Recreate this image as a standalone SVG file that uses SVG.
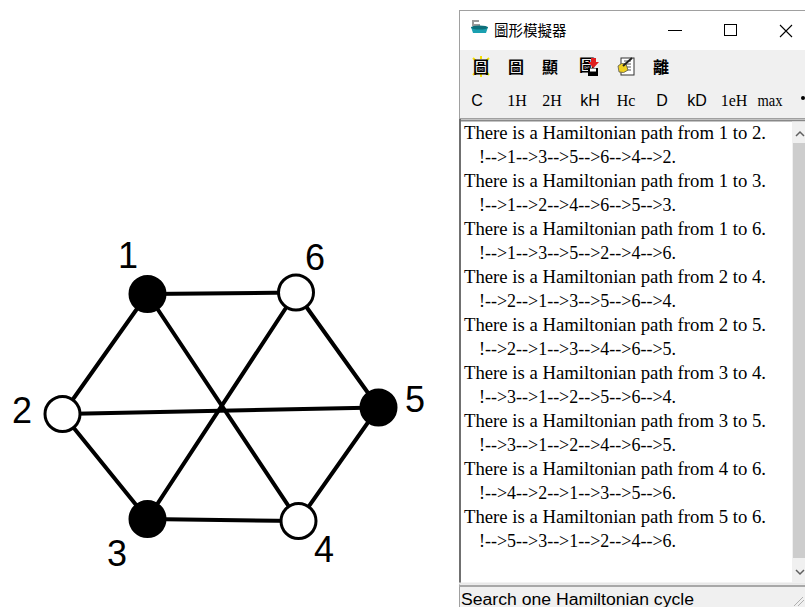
<svg xmlns="http://www.w3.org/2000/svg" width="805" height="607" viewBox="0 0 805 607">
<style>
.edge{stroke:#000;stroke-width:4;stroke-linecap:round}
.nb{fill:#000;stroke:#000;stroke-width:2}
.nw{fill:#fff;stroke:#000;stroke-width:3}
.lbl{font-family:"Liberation Sans",Arial,sans-serif;font-size:36px;fill:#000;text-anchor:middle}
.ser{font-family:"Liberation Serif","Times New Roman",serif;fill:#000}
.san{font-family:"Liberation Sans",Arial,sans-serif;fill:#000}
.cjk{font-family:"Noto Sans CJK TC","Noto Sans CJK SC",sans-serif;fill:#000}
.hd{font-size:18px}
.tb{font-size:16px;text-anchor:middle}
.ico{font-size:16px;text-anchor:middle;font-weight:bold}
</style>
<rect width="805" height="607" fill="#fff"/>

<g id="connectors">
<line class="edge" x1="147.5" y1="294" x2="296" y2="292.5"/>
<line class="edge" x1="147.5" y1="294" x2="62.5" y2="414"/>
<line class="edge" x1="147.5" y1="294" x2="298.5" y2="521"/>
<line class="edge" x1="296" y1="292.5" x2="378.5" y2="407.5"/>
<line class="edge" x1="296" y1="292.5" x2="147.5" y2="519"/>
<line class="edge" x1="62.5" y1="414" x2="378.5" y2="407.5"/>
<line class="edge" x1="62.5" y1="414" x2="147.5" y2="519"/>
<line class="edge" x1="147.5" y1="519" x2="298.5" y2="521"/>
<line class="edge" x1="298.5" y1="521" x2="378.5" y2="407.5"/>
</g>

<g id="node1"><circle class="nb" cx="147.5" cy="294" r="18"/><text class="lbl" x="128" y="268">1</text></g>
<g id="node6"><circle class="nw" cx="296" cy="292.5" r="17.5"/><text class="lbl" x="315" y="270">6</text></g>
<g id="node2"><circle class="nw" cx="62.5" cy="414" r="17.5"/><text class="lbl" x="22" y="423">2</text></g>
<g id="node5"><circle class="nb" cx="378.5" cy="407.5" r="18"/><text class="lbl" x="415" y="412">5</text></g>
<g id="node3"><circle class="nb" cx="147.5" cy="519" r="18"/><text class="lbl" x="117" y="566">3</text></g>
<g id="node4"><circle class="nw" cx="298.5" cy="521" r="17.5"/><text class="lbl" x="324" y="562">4</text></g>

<g id="window">
<rect x="459" y="10" width="346" height="597" fill="#f0f0f0"/>
<rect x="459.5" y="10.5" width="346" height="600" fill="none" stroke="#a0a0a0" stroke-width="1"/>
<rect x="460" y="11" width="345" height="39" fill="#fff"/>
<path d="M472 20 h7 v2 h-5 v2 h6 v2 h-8 z" fill="#9a9a9a"/>
<path d="M471 27 h17 l-2 6 h-13 z" fill="#1aa0b0"/>
<ellipse cx="479.5" cy="27.5" rx="8.5" ry="2" fill="#0d6f7a"/>
<text class="cjk" x="494" y="36" font-size="14.5px">圖形模擬器</text>
<line x1="668" y1="30.5" x2="682" y2="30.5" stroke="#000" stroke-width="1"/>
<rect x="724.5" y="24.5" width="12" height="11" fill="none" stroke="#000" stroke-width="1"/>
<path d="M780 25 L792 37 M792 25 L780 37" stroke="#000" stroke-width="1.1"/>
<g id="toolbar1">
<path d="M473 58 l3 3 M489 58 l-3 3 M473 75 l3 -3 M489 75 l-3 -3 M481 56 v3 M481 77 v-3" stroke="#f5e000" stroke-width="2"/>
<text class="cjk ico" x="481" y="73">圖</text>
<text class="cjk ico" x="516" y="73">圖</text>
<text class="cjk ico" x="550" y="73">顯</text>
<text class="cjk ico" x="587" y="71" font-size="13px">圖</text>
<path d="M591 58 h5 v4 h3 l-5.5 6 l-5.5 -6 h3 z" fill="#e02020"/>
<rect x="588" y="68" width="10" height="8" fill="#000"/>
<rect x="590" y="68.5" width="6" height="3" fill="#fff"/>
<rect x="621" y="58" width="13" height="17" fill="#fff" stroke="#333" stroke-width="1"/>
<path d="M624 61 h7 M624 64 h7 M626 67 h5 M626 70 h5" stroke="#555" stroke-width="1"/>
<path d="M618 66 q3 -4 8 -2 l2 6 q-4 4 -9 2 z" fill="#f0d020" stroke="#555" stroke-width="0.8"/>
<path d="M623 66 l9 -8" stroke="#222" stroke-width="2"/>
<text class="cjk ico" x="661" y="73">離</text>
</g>
<g id="toolbar2">
<text class="san tb" x="477" y="106">C</text>
<text class="ser tb" x="517" y="106">1H</text>
<text class="ser tb" x="552" y="106">2H</text>
<text class="san tb" x="590" y="106">kH</text>
<text class="ser tb" x="626" y="106">Hc</text>
<text class="san tb" x="662" y="106">D</text>
<text class="san tb" x="697" y="106">kD</text>
<text class="ser tb" x="734" y="106">1eH</text>
<text class="ser tb" x="770" y="106" textLength="25" lengthAdjust="spacingAndGlyphs">max</text>
<circle cx="803" cy="98" r="2" fill="#000"/>
</g>
<line x1="459" y1="118.5" x2="805" y2="118.5" stroke="#a0a0a0" stroke-width="1"/>
<rect x="459" y="119" width="346" height="464" fill="#fff"/>
<line x1="459" y1="120.5" x2="805" y2="120.5" stroke="#888" stroke-width="2"/>
<line x1="460" y1="119" x2="460" y2="584" stroke="#707070" stroke-width="2"/>
<line x1="459" y1="583.5" x2="805" y2="583.5" stroke="#e8e8e8" stroke-width="2"/>
<rect x="792" y="121.5" width="13" height="461" fill="#f0f0f0"/>
<rect x="793" y="143" width="12" height="415" fill="#cdcdcd"/>
<path d="M796 136 l4 -4 l4 4" fill="none" stroke="#606060" stroke-width="1.5"/>
<path d="M796 570 l4 4 l4 -4" fill="none" stroke="#606060" stroke-width="1.5"/>
<g id="output" class="ser hd">
<text x="464" y="139" textLength="302" lengthAdjust="spacingAndGlyphs">There is a Hamiltonian path from 1 to 2.</text>
<text x="479" y="163" textLength="197" lengthAdjust="spacingAndGlyphs">!--&gt;1--&gt;3--&gt;5--&gt;6--&gt;4--&gt;2.</text>
<text x="464" y="187" textLength="302" lengthAdjust="spacingAndGlyphs">There is a Hamiltonian path from 1 to 3.</text>
<text x="479" y="211" textLength="197" lengthAdjust="spacingAndGlyphs">!--&gt;1--&gt;2--&gt;4--&gt;6--&gt;5--&gt;3.</text>
<text x="464" y="235" textLength="302" lengthAdjust="spacingAndGlyphs">There is a Hamiltonian path from 1 to 6.</text>
<text x="479" y="259" textLength="197" lengthAdjust="spacingAndGlyphs">!--&gt;1--&gt;3--&gt;5--&gt;2--&gt;4--&gt;6.</text>
<text x="464" y="283" textLength="302" lengthAdjust="spacingAndGlyphs">There is a Hamiltonian path from 2 to 4.</text>
<text x="479" y="307" textLength="197" lengthAdjust="spacingAndGlyphs">!--&gt;2--&gt;1--&gt;3--&gt;5--&gt;6--&gt;4.</text>
<text x="464" y="331" textLength="302" lengthAdjust="spacingAndGlyphs">There is a Hamiltonian path from 2 to 5.</text>
<text x="479" y="355" textLength="197" lengthAdjust="spacingAndGlyphs">!--&gt;2--&gt;1--&gt;3--&gt;4--&gt;6--&gt;5.</text>
<text x="464" y="379" textLength="302" lengthAdjust="spacingAndGlyphs">There is a Hamiltonian path from 3 to 4.</text>
<text x="479" y="403" textLength="197" lengthAdjust="spacingAndGlyphs">!--&gt;3--&gt;1--&gt;2--&gt;5--&gt;6--&gt;4.</text>
<text x="464" y="427" textLength="302" lengthAdjust="spacingAndGlyphs">There is a Hamiltonian path from 3 to 5.</text>
<text x="479" y="451" textLength="197" lengthAdjust="spacingAndGlyphs">!--&gt;3--&gt;1--&gt;2--&gt;4--&gt;6--&gt;5.</text>
<text x="464" y="475" textLength="302" lengthAdjust="spacingAndGlyphs">There is a Hamiltonian path from 4 to 6.</text>
<text x="479" y="499" textLength="197" lengthAdjust="spacingAndGlyphs">!--&gt;4--&gt;2--&gt;1--&gt;3--&gt;5--&gt;6.</text>
<text x="464" y="523" textLength="302" lengthAdjust="spacingAndGlyphs">There is a Hamiltonian path from 5 to 6.</text>
<text x="479" y="547" textLength="197" lengthAdjust="spacingAndGlyphs">!--&gt;5--&gt;3--&gt;1--&gt;2--&gt;4--&gt;6.</text>
</g>
<line x1="459" y1="586" x2="805" y2="586" stroke="#a8a8a8" stroke-width="2"/>
<text class="san" x="461" y="605" font-size="16px" textLength="233" lengthAdjust="spacingAndGlyphs">Search one Hamiltonian cycle</text>
<path d="M794 606 l9 -9 M798 606 l6 -6" stroke="#b0b0b0" stroke-width="1"/>
</g>
</svg>
